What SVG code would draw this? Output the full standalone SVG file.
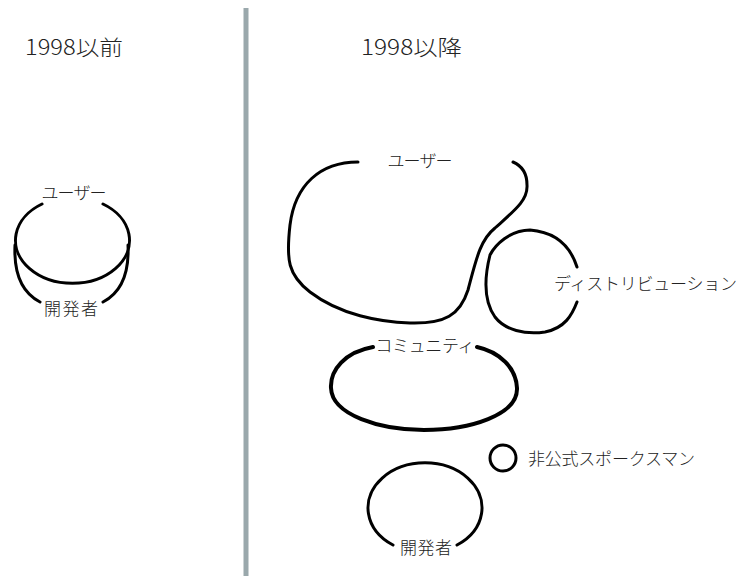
<svg xmlns="http://www.w3.org/2000/svg" width="739" height="576" viewBox="0 0 739 576">
<style>
.t{font-family:"Noto Sans CJK JP","Noto Sans",sans-serif;fill:#222;font-weight:300;}
.h{font-size:21px;}
.l{font-size:17px;text-anchor:middle;}
.s{font-size:17px;}
.c{fill:none;stroke:#000;stroke-width:3;stroke-linecap:round;}
.k{stroke-width:4;}
</style>
<rect width="739" height="576" fill="#fff"/>
<line x1="246" y1="8" x2="246" y2="576" stroke="#9aa8ac" stroke-width="5"/>
<text class="t h" x="25" y="55" textLength="98" lengthAdjust="spacingAndGlyphs">1998以前</text>
<text class="t h" x="361" y="55" textLength="101" lengthAdjust="spacingAndGlyphs">1998以降</text>
<g id="before-user">
<path class="c" d="M 42 204 A 57 43 0 1 0 103 204"/>
<text class="t l" x="74" y="199" textLength="65">ユーザー</text>
</g>
<g id="before-dev">
<path class="c" d="M 15 245 Q 13 288 40 302"/>
<path class="c" d="M 128 245 Q 130 288 103 302"/>
<text class="t l" x="71" y="315" textLength="54">開発者</text>
</g>
<g id="user">
<path class="c" d="M 358 162 C 320 162, 295 185, 290 225 C 286 260, 288 275, 310 292 C 340 315, 380 322, 410 323 C 445 324, 460 315, 468 290 C 476 260, 480 240, 495 228 C 515 210, 528 200, 527 185 C 527 172, 520 165, 513 162"/>
<text class="t l" x="420" y="167" textLength="65">ユーザー</text>
</g>
<g id="distribution">
<path class="c" d="M 577 267 C 570 245, 555 232, 530 230 C 510 230, 495 245, 490 255 C 485 275, 483 300, 495 317 C 505 330, 525 335, 545 332 C 565 328, 572 315, 577 302"/>
<text class="t s" x="554" y="290" textLength="183">ディストリビューション</text>
</g>
<g id="community">
<path class="c k" d="M 373 347 C 345 352, 330 370, 331 388 C 332 415, 380 430, 424 430 C 470 430, 518 415, 517 388 C 516 368, 500 352, 477 347"/>
<text class="t l" x="425" y="352" textLength="99">コミュニティ</text>
</g>
<g id="spokesman">
<circle class="c" cx="503" cy="458" r="13"/>
<text class="t s" x="528" y="465" textLength="167">非公式スポークスマン</text>
</g>
<g id="developer">
<path class="c" d="M 393 545 A 57 45 0 1 1 457 545"/>
<text class="t l" x="426" y="554" textLength="52">開発者</text>
</g>
</svg>
